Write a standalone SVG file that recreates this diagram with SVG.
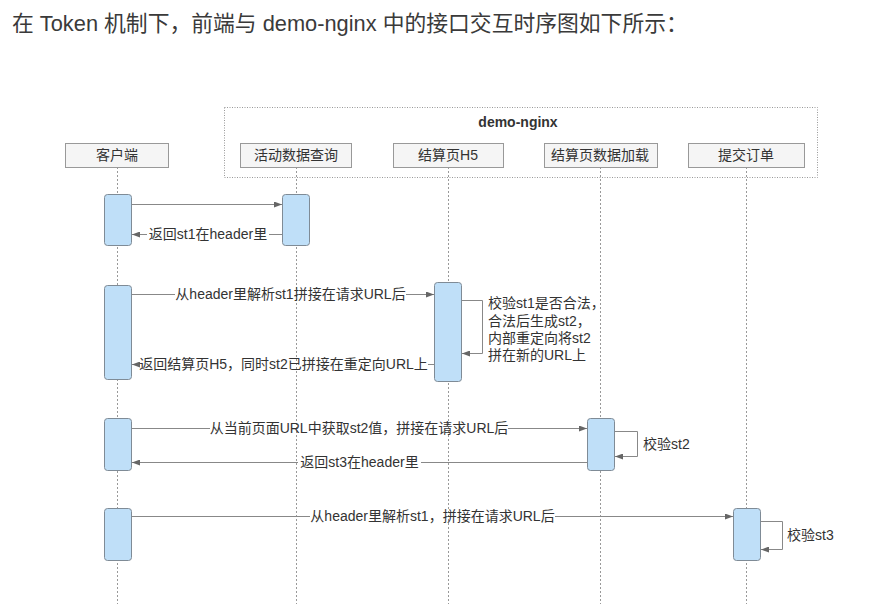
<svg xmlns="http://www.w3.org/2000/svg" width="881" height="604" viewBox="0 0 881 604">
<defs>
<style>
.t{font-family:"Liberation Sans","Noto Sans CJK SC",sans-serif;fill:#333;}
.title{font-size:21.8px;fill:#3a3a3a;}
.lbl{font-size:14px;}
.pbox{fill:#f5f5f5;stroke:#999;stroke-width:1;}
.life{stroke:#999;stroke-width:1;stroke-dasharray:2 2;fill:none;}
.act{fill:#bfdff8;stroke:#7f8b96;stroke-width:1;}
.msg{stroke:#888;stroke-width:1;fill:none;}
</style>
<marker id="ah" markerWidth="8" markerHeight="6" refX="8" refY="3" orient="auto" markerUnits="userSpaceOnUse">
<path d="M0,0 L8,3 L0,6 Z" fill="#666"/>
</marker>
</defs>
<rect width="881" height="604" fill="#fff"/>
<text class="t title" x="12" y="31">在 Token 机制下，前端与 demo-nginx 中的接口交互时序图如下所示：</text>

<g id="group-demo-nginx">
<rect x="224.5" y="107.5" width="593" height="70" fill="none" stroke="#999" stroke-width="1" stroke-dasharray="1 1.5"/>
<text class="t" x="518" y="127" font-size="14" font-weight="bold" text-anchor="middle">demo-nginx</text>
</g>

<g id="lifelines">
<line class="life" x1="117.5" y1="167" x2="117.5" y2="604"/>
<line class="life" x1="296.5" y1="167" x2="296.5" y2="604"/>
<line class="life" x1="448.5" y1="167" x2="448.5" y2="604"/>
<line class="life" x1="600.5" y1="167" x2="600.5" y2="604"/>
<line class="life" x1="746.5" y1="167" x2="746.5" y2="604"/>
</g>

<g id="p-client"><rect class="pbox" x="65.5" y="143.5" width="103" height="24"/><text class="t lbl" x="117" y="160" text-anchor="middle">客户端</text></g>
<g id="p-activity"><rect class="pbox" x="240.5" y="143.5" width="111" height="24"/><text class="t lbl" x="296" y="160" text-anchor="middle">活动数据查询</text></g>
<g id="p-h5"><rect class="pbox" x="393.5" y="143.5" width="110" height="24"/><text class="t lbl" x="448" y="160" text-anchor="middle">结算页H5</text></g>
<g id="p-load"><rect class="pbox" x="544.5" y="143.5" width="113" height="24"/><text class="t lbl" x="600" y="160" text-anchor="middle">结算页数据加载</text></g>
<g id="p-submit"><rect class="pbox" x="688.5" y="143.5" width="116" height="24"/><text class="t lbl" x="746" y="160" text-anchor="middle">提交订单</text></g>

<g id="activations">
<rect class="act" x="104.5" y="194.5" width="27" height="51" rx="3"/>
<rect class="act" x="282.5" y="194.5" width="27" height="51" rx="3"/>
<rect class="act" x="104.5" y="285.5" width="27" height="94" rx="3"/>
<rect class="act" x="434.5" y="282.5" width="27" height="99" rx="3"/>
<rect class="act" x="104.5" y="418.5" width="27" height="52" rx="3"/>
<rect class="act" x="587.5" y="418.5" width="27" height="52" rx="3"/>
<rect class="act" x="104.5" y="508.5" width="27" height="52" rx="3"/>
<rect class="act" x="733.5" y="508.5" width="27" height="52" rx="3"/>
</g>

<g id="connectors">
<line class="msg" x1="132" y1="204.5" x2="282" y2="204.5" marker-end="url(#ah)"/>

<line class="msg" x1="282" y1="234.5" x2="269" y2="234.5"/>
<line class="msg" x1="147" y1="234.5" x2="132" y2="234.5" marker-end="url(#ah)"/>

<line class="msg" x1="132" y1="294.5" x2="175" y2="294.5"/>
<line class="msg" x1="406" y1="294.5" x2="434" y2="294.5" marker-end="url(#ah)"/>

<path class="msg" d="M462,300.5 H482.5 V353.5 H462" marker-end="url(#ah)"/>

<line class="msg" x1="434" y1="364.5" x2="428" y2="364.5"/>
<line class="msg" x1="140" y1="364.5" x2="132" y2="364.5" marker-end="url(#ah)"/>

<line class="msg" x1="132" y1="428.5" x2="210" y2="428.5"/>
<line class="msg" x1="508" y1="428.5" x2="587" y2="428.5" marker-end="url(#ah)"/>

<path class="msg" d="M615,431.5 H637.5 V456.5 H615" marker-end="url(#ah)"/>

<line class="msg" x1="587" y1="462.5" x2="421" y2="462.5"/>
<line class="msg" x1="298" y1="462.5" x2="132" y2="462.5" marker-end="url(#ah)"/>

<line class="msg" x1="132" y1="516.5" x2="310" y2="516.5"/>
<line class="msg" x1="555" y1="516.5" x2="733" y2="516.5" marker-end="url(#ah)"/>

<path class="msg" d="M761,521.5 H782.5 V549.5 H761" marker-end="url(#ah)"/>
</g>

<g id="labels">
<text class="t lbl" x="208" y="239" text-anchor="middle">返回st1在header里</text>
<text class="t lbl" x="290.5" y="299" text-anchor="middle">从header里解析st1拼接在请求URL后</text>
<text class="t lbl" x="488" y="308">校验st1是否合法，</text>
<text class="t lbl" x="488" y="326">合法后生成st2，</text>
<text class="t lbl" x="488" y="343">内部重定向将st2</text>
<text class="t lbl" x="488" y="360">拼在新的URL上</text>
<text class="t lbl" x="283.5" y="369" text-anchor="middle">返回结算页H5，同时st2已拼接在重定向URL上</text>
<text class="t lbl" x="359" y="433" text-anchor="middle">从当前页面URL中获取st2值，拼接在请求URL后</text>
<text class="t lbl" x="643" y="449">校验st2</text>
<text class="t lbl" x="359.5" y="467" text-anchor="middle">返回st3在header里</text>
<text class="t lbl" x="432.5" y="521" text-anchor="middle">从header里解析st1，拼接在请求URL后</text>
<text class="t lbl" x="787" y="540">校验st3</text>
</g>
</svg>
